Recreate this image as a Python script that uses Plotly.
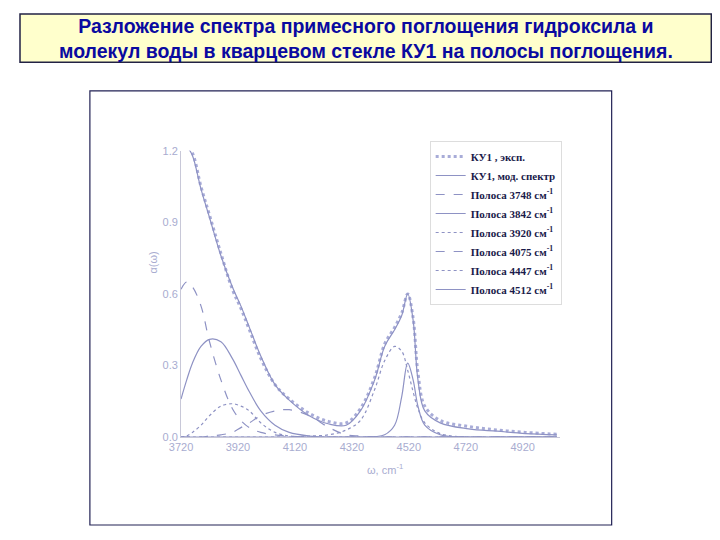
import plotly.graph_objects as go

# wavenumber grid, cm-1
x = [3720, 3740, 3760, 3790, 3820, 3860, 3900, 3930, 3960, 4000, 4050, 4100, 4170,
     4240, 4300, 4350, 4400, 4435, 4470, 4495, 4516, 4535, 4552, 4576, 4630, 4730,
     4830, 4930, 5040]

# experimental / model spectrum
total = [1.25, 1.22, 1.18, 1.04, 0.92, 0.76, 0.63, 0.55, 0.46, 0.34, 0.22, 0.155, 0.09,
         0.055, 0.05, 0.11, 0.24, 0.38, 0.45, 0.51, 0.60, 0.49, 0.24, 0.11, 0.06, 0.035,
         0.025, 0.015, 0.01]
total_exp = [1.25, 1.22, 1.19, 1.05, 0.93, 0.77, 0.62, 0.54, 0.45, 0.33, 0.22, 0.16, 0.10,
             0.065, 0.06, 0.12, 0.25, 0.39, 0.46, 0.52, 0.60, 0.50, 0.27, 0.13, 0.07, 0.045,
             0.03, 0.02, 0.012]

b3748 = [0.62, 0.65, 0.63, 0.55, 0.40, 0.24, 0.12, 0.07, 0.04, 0.02, 0.01, 0.005, 0,
         0, 0, 0, 0, 0, 0, 0, 0, 0, 0, 0, 0, 0, 0, 0, 0]
b3842 = [0.16, 0.24, 0.31, 0.38, 0.41, 0.40, 0.33, 0.26, 0.19, 0.11, 0.05, 0.02, 0.005,
         0, 0, 0, 0, 0, 0, 0, 0, 0, 0, 0, 0, 0, 0, 0, 0]
b3920 = [0.0, 0.005, 0.02, 0.05, 0.09, 0.13, 0.14, 0.13, 0.11, 0.06, 0.02, 0.005, 0,
         0, 0, 0, 0, 0, 0, 0, 0, 0, 0, 0, 0, 0, 0, 0, 0]
b4075 = [0, 0, 0, 0, 0.005, 0.01, 0.02, 0.04, 0.06, 0.09, 0.11, 0.115, 0.09,
         0.04, 0.01, 0.005, 0, 0, 0, 0, 0, 0, 0, 0, 0, 0, 0, 0, 0]
b4447 = [0, 0, 0, 0, 0, 0, 0, 0, 0, 0, 0, 0, 0.005,
         0.01, 0.03, 0.07, 0.20, 0.32, 0.38, 0.36, 0.28, 0.19, 0.12, 0.06, 0.015, 0,
         0, 0, 0]
b4512 = [0, 0, 0, 0, 0, 0, 0, 0, 0, 0, 0, 0, 0,
         0, 0, 0, 0.002, 0.01, 0.05, 0.17, 0.31, 0.24, 0.13, 0.05, 0.01, 0, 0, 0, 0]

ticks_x = [3720, 3920, 4120, 4320, 4520, 4720, 4920]
ticks_y = [0.0, 0.3, 0.6, 0.9, 1.2]
title = ("<b>Разложение спектра примесного поглощения гидроксила и<br>"
         "молекул воды в кварцевом стекле КУ1 на полосы поглощения.</b>")

line_col = "#8e92c4"

fig = go.Figure()
fig.add_trace(go.Scatter(x=x, y=total_exp, mode="lines", name="<b>КУ1 , эксп.</b>",
                         line=dict(color="#a8acd8", width=3, dash="dot"), line_shape="spline"))
fig.add_trace(go.Scatter(x=x, y=total, mode="lines", name="<b>КУ1, мод. спектр</b>",
                         line=dict(color=line_col, width=1.2), line_shape="spline"))
bands = [("<b>Полоса 3748 см<sup>-1</sup></b>", b3748, "dash"),
         ("<b>Полоса 3842 см<sup>-1</sup></b>", b3842, "solid"),
         ("<b>Полоса 3920 см<sup>-1</sup></b>", b3920, "dot"),
         ("<b>Полоса 4075 см<sup>-1</sup></b>", b4075, "dash"),
         ("<b>Полоса 4447 см<sup>-1</sup></b>", b4447, "dot"),
         ("<b>Полоса 4512 см<sup>-1</sup></b>", b4512, "solid")]
for name, vals, dash in bands:
    fig.add_trace(go.Scatter(x=x, y=vals, mode="lines", name=name, line_shape="spline",
                             line=dict(color=line_col, width=1.2, dash=dash)))

fig.update_layout(
    width=704, height=524, margin=dict(l=0, r=0, t=0, b=0),
    paper_bgcolor="white", plot_bgcolor="white", showlegend=True,
    legend=dict(x=0.592, y=0.752, xanchor="left", yanchor="top",
                bgcolor="white", bordercolor="#dddddd", borderwidth=1,
                font=dict(family="Liberation Serif", size=11, color="#1a1a4a"),
                tracegroupgap=0, itemwidth=30),
    shapes=[
        dict(type="rect", xref="paper", yref="paper", x0=0.0, x1=0.999, y0=0.906, y1=1.0,
             fillcolor="#ffffcc", line=dict(color="#222244", width=1.5), layer="below"),
        dict(type="rect", xref="paper", yref="paper", x0=0.101, x1=0.855, y0=0.002, y1=0.85,
             fillcolor="rgba(0,0,0,0)", line=dict(color="#222255", width=1.2)),
    ],
    annotations=[
        dict(text=title, xref="paper", yref="paper", x=0.5, y=0.953, yanchor="middle",
             showarrow=False,
             font=dict(family="Liberation Sans", size=19.5, color="#0a0aa0")),
        dict(text="α(ω)", xref="paper", yref="paper", x=0.181, y=0.515, showarrow=False,
             textangle=-90, font=dict(family="Liberation Sans", size=11, color="#a8acd0")),
        dict(text="ω, cm<sup>-1</sup>", xref="paper", yref="paper", x=0.527, y=0.094,
             showarrow=False, font=dict(family="Liberation Sans", size=11, color="#a8acd0")),
    ],
)
fig.update_xaxes(domain=[0.2327, 0.780], range=[3720, 5050], tickvals=ticks_x,
                 showgrid=False, zeroline=False, showline=True, linecolor="#c8c8d8",
                 tickfont=dict(family="Liberation Sans", size=11, color="#a8acd0"))
fig.update_yaxes(domain=[0.1735, 0.733], range=[0, 1.2], tickvals=ticks_y, tickformat=".1f",
                 showgrid=False, zeroline=False, showline=True, linecolor="#c8c8d8",
                 tickfont=dict(family="Liberation Sans", size=11, color="#a8acd0"))

fig.write_html("out.html")
